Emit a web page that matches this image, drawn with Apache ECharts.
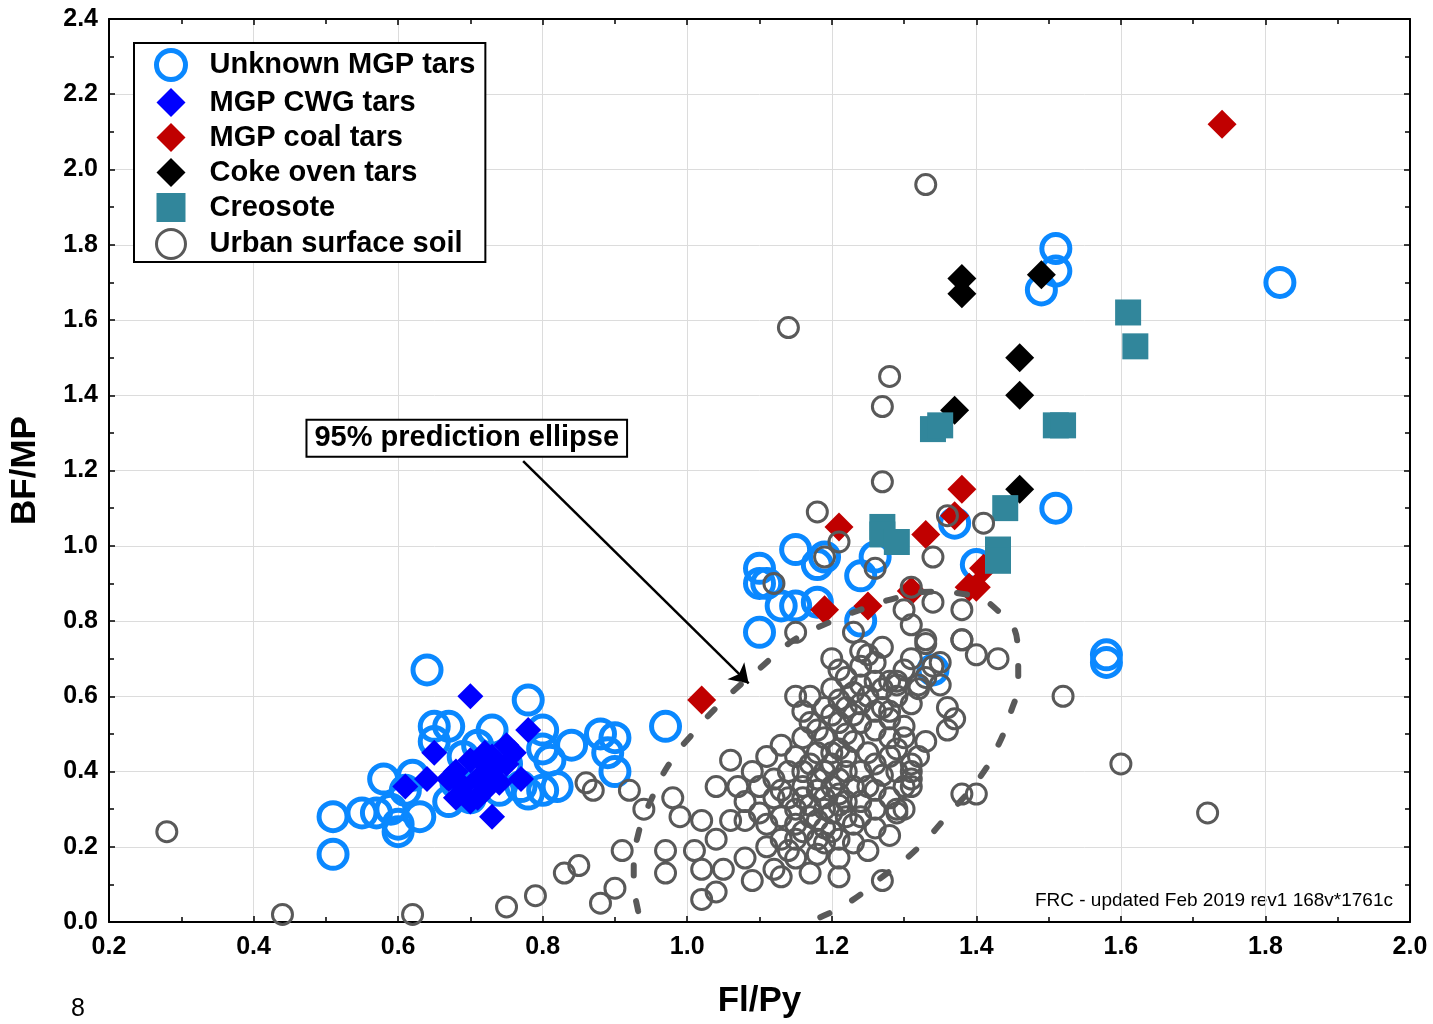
<!DOCTYPE html>
<html>
<head>
<meta charset="utf-8">
<script src="https://cdn.jsdelivr.net/npm/echarts@6/dist/echarts.min.js"></script>
<style>
html, body { margin: 0; padding: 0; background: #fff; }
#main { width: 1433px; height: 1024px; }
</style>
</head>
<body>
<div id="main"></div>
<script>
// 数据: [Fl/Py, BF/MP]
var unknownMgp = [
    [1.51,1.79],[1.51,1.73],[1.49,1.68],[1.82,1.70],[1.51,1.10],[1.37,1.06],[1.40,0.95],
    [1.10,0.94],[1.10,0.90],[1.11,0.90],[1.15,0.99],[1.18,0.95],[1.19,0.97],[1.24,0.92],
    [1.26,0.97],[1.13,0.84],[1.15,0.84],[1.18,0.85],[1.24,0.80],[1.10,0.77],[1.34,0.67],
    [1.58,0.71],[1.58,0.69],[0.97,0.52],[0.64,0.67],[0.78,0.59],[0.65,0.52],[0.67,0.52],
    [0.65,0.48],[0.73,0.51],[0.80,0.51],[0.84,0.47],[0.88,0.50],[0.90,0.49],[0.89,0.45],
    [0.90,0.40],[0.80,0.46],[0.81,0.43],[0.82,0.36],[0.80,0.35],[0.78,0.34],[0.58,0.38],
    [0.62,0.39],[0.61,0.35],[0.55,0.29],[0.51,0.28],[0.51,0.18],[0.57,0.29],[0.59,0.30],
    [0.60,0.26],[0.60,0.24],[0.63,0.28],[0.67,0.32],[0.74,0.35],[0.72,0.40],[0.71,0.47],
    [0.69,0.44],[0.77,0.36],[0.75,0.42],[0.68,0.37],[0.70,0.33]
];
var cwgTars = [
    [0.70,0.60],[0.78,0.51],[0.65,0.45],[0.64,0.38],[0.61,0.36],[0.73,0.28],[0.77,0.38],
    [0.68,0.40],[0.70,0.43],[0.75,0.47],[0.76,0.45],[0.72,0.45],[0.68,0.33],[0.70,0.32],
    [0.71,0.33],[0.71,0.38],[0.73,0.40],[0.75,0.42],[0.67,0.38],[0.72,0.42],[0.74,0.37],
    [0.69,0.36],[0.72,0.35],[0.73,0.44]
];
var coalTars = [
    [1.74,2.12],[1.02,0.59],[1.38,1.15],[1.37,1.08],[1.21,1.05],[1.33,1.03],[1.41,0.94],
    [1.39,0.89],[1.40,0.89],[1.31,0.88],[1.19,0.83],[1.25,0.84]
];
var cokeTars = [
    [1.38,1.71],[1.38,1.67],[1.49,1.72],[1.46,1.50],[1.46,1.40],[1.37,1.36],[1.46,1.15]
];
var creosote = [
    [1.61,1.62],[1.62,1.53],[1.34,1.31],[1.35,1.32],[1.51,1.32],[1.52,1.32],[1.44,1.10],
    [1.43,0.99],[1.43,0.96],[1.27,1.05],[1.27,1.03],[1.29,1.01]
];
var urbanSoil = [
    [1.33,1.96],[1.14,1.58],[1.28,1.45],[1.27,1.37],[1.27,1.17],[1.18,1.09],[1.36,1.08],
    [1.41,1.06],[1.21,1.01],[1.19,0.97],[1.12,0.90],[1.26,0.94],[1.34,0.97],[1.31,0.89],
    [1.34,0.85],[1.30,0.83],[1.31,0.79],[1.38,0.83],[1.15,0.77],[1.23,0.77],[1.20,0.70],
    [1.24,0.72],[1.27,0.73],[1.31,0.70],[1.33,0.74],[1.35,0.69],[1.38,0.75],[1.40,0.71],
    [1.43,0.70],[1.52,0.60],[1.28,0.64],[1.33,0.65],[1.35,0.63],[1.36,0.57],[1.37,0.54],
    [1.36,0.51],[1.15,0.60],[1.16,0.56],[1.20,0.62],[1.60,0.42],[1.72,0.29],[0.28,0.24],
    [0.44,0.02],[0.62,0.02],[0.75,0.04],[0.79,0.07],[0.83,0.13],[0.85,0.15],[0.88,0.05],
    [0.90,0.09],[0.91,0.19],[0.86,0.37],[0.87,0.35],[0.92,0.35],[0.94,0.30],[0.98,0.33],
    [0.99,0.28],[0.97,0.19],[0.97,0.13],[1.02,0.06],[1.04,0.08],[1.09,0.11],[1.27,0.11],
    [1.38,0.34],[1.40,0.34],[1.06,0.43],[1.04,0.36],[1.07,0.36],[1.08,0.27],[1.02,0.27],
    [1.01,0.19],[1.04,0.22],[1.08,0.17],[1.02,0.14],[1.05,0.14],[1.12,0.14],[1.13,0.12],
    [1.15,0.17],[1.17,0.13],[1.21,0.12],[1.11,0.20],[1.15,0.22],[1.18,0.18],[1.21,0.17],
    [1.25,0.19],[1.28,0.23],[1.29,0.29],[1.26,0.35],[1.24,0.28],[1.30,0.36],[1.21,0.46],
    [1.23,0.48],[1.26,0.51],[1.28,0.54],[1.30,0.49],[1.31,0.42],[1.25,0.71],[1.21,0.59],
    [1.24,0.58],[1.27,0.57],[1.29,0.64],[1.31,0.58],[1.17,0.53],[1.19,0.49],[1.13,0.47],
    [1.11,0.44],[1.12,0.38],[1.16,0.40],[1.18,0.35],[1.20,0.36],[1.14,0.33],[1.10,0.29],
    [1.11,0.26],[1.17,0.28],[1.20,0.29],[1.21,0.31],[1.23,0.26],[1.20,0.24],[1.18,0.22],
    [1.15,0.26],[1.13,0.22],[1.06,0.27],[1.19,0.40],[1.20,0.42],[1.21,0.38],[1.22,0.40],
    [1.18,0.38],[1.17,0.42],[1.16,0.36],[1.19,0.33],[1.21,0.34],[1.22,0.32],[1.19,0.30],
    [1.17,0.31],[1.16,0.33],[1.18,0.27],[1.22,0.28],[1.23,0.36],[1.24,0.40],[1.22,0.44],
    [1.20,0.45],[1.18,0.45],[1.15,0.44],[1.14,0.40],[1.13,0.35],[1.15,0.30],[1.19,0.25],
    [1.21,0.22],[1.24,0.32],[1.25,0.36],[1.26,0.42],[1.25,0.45],[1.22,0.50],[1.21,0.53],
    [1.23,0.55],[1.24,0.53],[1.22,0.57],[1.20,0.55],[1.23,0.61],[1.25,0.60],[1.26,0.56],
    [1.24,0.63],[1.22,0.65],[1.26,0.64],[1.27,0.62],[1.28,0.49],[1.29,0.46],[1.29,0.40],
    [1.27,0.39],[1.28,0.44],[1.12,0.33],[1.10,0.36],[1.08,0.32],[1.09,0.40],[1.13,0.28],
    [1.16,0.24],[1.14,0.19],[1.19,0.21],[1.23,0.21],[1.26,0.25],[1.26,0.30],[1.28,0.33],
    [1.30,0.30],[1.31,0.38],[1.32,0.44],[1.30,0.52],[1.33,0.48],[1.29,0.60],[1.18,0.51],
    [1.16,0.49],[1.19,0.57],[1.17,0.60],[1.21,0.67],[1.24,0.68],[1.26,0.69],[1.30,0.67],
    [1.32,0.63],[1.33,0.75],[1.38,0.75],[1.34,0.68],[1.32,0.62],[1.29,0.63],[1.28,0.56],
    [1.31,0.40],[1.31,0.36],[1.29,0.30]
];
// 95% 预测椭圆 (读图得到的点)
var ellipsePts = [
    [0.95,-0.06],[0.932,0.03],[0.926,0.14],[0.933,0.24],[0.949,0.32],[0.975,0.42],[1.012,0.51],
    [1.051,0.59],[1.098,0.67],[1.148,0.75],[1.195,0.795],[1.244,0.833],[1.291,0.862],[1.337,0.878],
    [1.382,0.872],[1.431,0.825],[1.457,0.735],[1.458,0.642],[1.447,0.554],[1.428,0.461],[1.402,0.377],
    [1.365,0.294],[1.316,0.191],[1.268,0.117],[1.222,0.05],[1.174,0.003],[1.12,-0.05],[1.05,-0.09],
    [0.99,-0.09],[0.95,-0.06]
];
var arrowFrom = [0.773, 1.225];
var arrowTo = [1.085, 0.634];
var boxAt = [0.695, 1.286];
var seriesNames = ['Unknown MGP tars', 'MGP CWG tars', 'MGP coal tars', 'Coke oven tars', 'Creosote', 'Urban surface soil'];

var FONT = '"Liberation Sans", Arial, sans-serif';
var myChart = echarts.init(document.getElementById('main'));

function fmt(v) { return v.toFixed(1); }

function frameAxis(pos, min, max, interval)
{
    return {
        type: 'value', position: pos, min: min, max: max, interval: interval,
        axisLine: { show: true, onZero: false, lineStyle: { color: '#000', width: 2 } },
        axisTick: { show: true, inside: true, length: 6, lineStyle: { color: '#000', width: 1.5 } },
        minorTick: { show: true, splitNumber: 2, length: 5, lineStyle: { color: '#000', width: 1.5 } },
        axisLabel: { show: false },
        splitLine: { show: false }
    };
}

var xMain = frameAxis('bottom', 0.2, 2.0, 0.2);
xMain.axisLabel = { show: true, formatter: fmt, fontSize: 25, fontWeight: 'bold', color: '#000', fontFamily: FONT, margin: 13 };
xMain.splitLine = { show: true, lineStyle: { color: '#dcdcdc', width: 1 } };
xMain.name = 'Fl/Py';
xMain.nameLocation = 'middle';
xMain.nameGap = 62;
xMain.nameTextStyle = { fontSize: 35, fontWeight: 'bold', color: '#000', fontFamily: FONT };

var yMain = frameAxis('left', 0, 2.4, 0.2);
yMain.axisLabel = { show: true, formatter: fmt, fontSize: 25, fontWeight: 'bold', color: '#000', fontFamily: FONT, margin: 11 };
yMain.splitLine = { show: true, lineStyle: { color: '#dcdcdc', width: 1 } };
yMain.name = 'BF/MP';
yMain.nameLocation = 'middle';
yMain.nameGap = 66;
yMain.nameTextStyle = { fontSize: 35, fontWeight: 'bold', color: '#000', fontFamily: FONT };

function scatter(name, data, symbol, size, style, z)
{
    return {
        name: name, type: 'scatter', data: data, symbol: symbol, symbolSize: size,
        itemStyle: style, z: z, emphasis: { disabled: true }
    };
}

var legendItems = [
    { name: seriesNames[0], itemStyle: { borderWidth: 5 } },
    { name: seriesNames[1] },
    { name: seriesNames[2] },
    { name: seriesNames[3] },
    { name: seriesNames[4] },
    { name: seriesNames[5], itemStyle: { borderWidth: 3 } }
];

myChart.setOption({
    animation: false,
    backgroundColor: '#fff',
    grid: { left: 107, right: 23, top: 19, bottom: 100, containLabel: false },
    xAxis: [xMain, frameAxis('top', 0.2, 2.0, 0.2)],
    yAxis: [yMain, frameAxis('right', 0, 2.4, 0.2)],
    legend: {
        data: legendItems,
        orient: 'vertical',
        left: 134, top: 43,
        padding: [5, 10, 2, 20],
        itemWidth: 29, itemHeight: 29, itemGap: 6,
        borderColor: '#000', borderWidth: 2,
        backgroundColor: '#fff',
        selectedMode: false,
        textStyle: { fontSize: 29, fontWeight: 'bold', color: '#000', fontFamily: FONT, padding: [0, 0, 0, 19] }
    },
    series: [
        scatter(seriesNames[0], unknownMgp, 'circle', 28, { color: 'rgba(0,0,0,0)', borderColor: '#0a88ff', borderWidth: 5, opacity: 1 }, 2),
        scatter(seriesNames[1], cwgTars, 'diamond', 26, { color: '#0000ff', opacity: 1 }, 3),
        scatter(seriesNames[2], coalTars, 'diamond', 29, { color: '#c00000', opacity: 1 }, 4),
        scatter(seriesNames[3], cokeTars, 'diamond', 29, { color: '#000000', opacity: 1 }, 5),
        scatter(seriesNames[4], creosote, 'rect', 26, { color: '#31869b', opacity: 1 }, 6),
        scatter(seriesNames[5], urbanSoil, 'circle', 20, { color: 'rgba(0,0,0,0)', borderColor: '#595959', borderWidth: 3, opacity: 1 }, 7),
        {
            name: 'ellipse', type: 'line', data: ellipsePts, smooth: 0.5, symbol: 'none', z: 8,
            clip: true, silent: true,
            lineStyle: { color: '#595959', width: 6, type: [10, 26], cap: 'round' }
        },
        {
            name: 'note', type: 'line', data: [], z: 9, silent: true,
            markLine: {
                silent: true, symbol: ['none', 'arrow'], symbolSize: 18,
                label: { show: false },
                lineStyle: { color: '#000', width: 2.5, type: 'solid' },
                data: [[{ coord: arrowFrom }, { coord: arrowTo }]]
            },
            markPoint: {
                silent: true, symbol: 'rect', symbolSize: 1,
                itemStyle: { color: 'rgba(0,0,0,0)' },
                label: {
                    show: true, position: 'inside', formatter: '95% prediction ellipse',
                    fontSize: 29, fontWeight: 'bold', color: '#000', fontFamily: FONT,
                    backgroundColor: '#fff', borderColor: '#000', borderWidth: 2,
                    padding: [4, 7, 2, 7]
                },
                data: [{ coord: boxAt }]
            }
        }
    ],
    graphic: [
        { type: 'text', right: 40, top: 891, style: { text: 'FRC - updated Feb 2019 rev1 168v*1761c', fontSize: 19, fill: '#000', fontFamily: FONT } },
        { type: 'text', left: 71, top: 997, style: { text: '8', fontSize: 25, fill: '#000', fontFamily: FONT } }
    ]
});
</script>
</body>
</html>
